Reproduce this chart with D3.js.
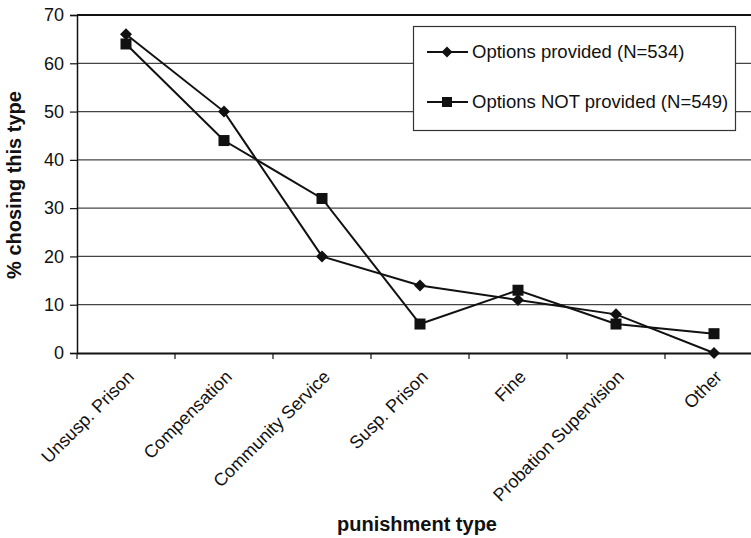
<!DOCTYPE html>
<html><head><meta charset="utf-8">
<script src="https://cdn.jsdelivr.net/npm/d3@7"></script>
<style>body{margin:0;background:#fff}svg{display:block;font-family:"Liberation Sans",Arial,sans-serif}</style>
</head><body><svg id="c" width="751" height="538"></svg>
<script>
const categories = ["Unsusp. Prison","Compensation","Community Service","Susp. Prison","Fine","Probation Supervision","Other"];
const provided = [66,50,20,14,11,8,0];
const notProvided = [64,44,32,6,13,6,4];
const yTicks = [0,10,20,30,40,50,60,70];
const seriesNames = ["Options provided (N=534)","Options NOT provided (N=549)"];

(function(){
const svg = d3.select("#c");
const pL=77, pR=763, pT=15, pB=353;
const x = d3.scaleBand().domain(categories).range([pL,pR]);
const y = d3.scaleLinear().domain([0,70]).range([pB,pT]);

svg.append("g").selectAll("line").data(yTicks.filter(d=>d>0)).join("line")
  .attr("x1",pL).attr("x2",pR).attr("y1",d=>y(d)).attr("y2",d=>y(d))
  .attr("stroke",d=>d===70?"#111":"#444").attr("stroke-width",d=>d===70?2:1.2);

const ya = svg.append("g").attr("transform",`translate(${pL},0)`)
  .call(d3.axisLeft(y).tickValues(yTicks).tickSize(7).tickPadding(6));
ya.select(".domain").attr("stroke","#111").attr("stroke-width",1.5);
ya.selectAll(".tick line").attr("stroke","#111").attr("stroke-width",1.2);
ya.selectAll("text").attr("font-size",18).attr("fill","#111");

const xa = svg.append("g").attr("transform",`translate(0,${pB})`)
  .call(d3.axisBottom(x).tickSize(0).tickFormat(""));
xa.select(".domain").attr("stroke","#111").attr("stroke-width",2);
const bounds = categories.map(c=>x(c)).concat([pR]);
svg.append("g").selectAll("line").data(bounds).join("line")
  .attr("x1",d=>d).attr("x2",d=>d).attr("y1",pB).attr("y2",pB+6)
  .attr("stroke","#111").attr("stroke-width",1.2);
svg.append("g").selectAll("text").data(categories).join("text")
  .attr("transform",d=>`translate(${x(d)+x.bandwidth()/2+9},${pB+25}) rotate(-45)`)
  .attr("text-anchor","end").attr("font-size",18).attr("fill","#111").text(d=>d);

svg.append("text").attr("transform",`translate(21,185) rotate(-90)`)
  .attr("text-anchor","middle").attr("font-size",20).attr("font-weight","bold").attr("fill","#111")
  .text("% chosing this type");
svg.append("text").attr("x",417).attr("y",531)
  .attr("text-anchor","middle").attr("font-size",20).attr("font-weight","bold").attr("fill","#111")
  .text("punishment type");

const cx = d=>x(d)+x.bandwidth()/2;
const line = d3.line().x((d,i)=>cx(categories[i])).y(d=>y(d));
function drawDiamond(g,px,py,s){g.append("path").attr("d",d3.symbol().type(d3.symbolSquare).size(s)()).attr("transform",`translate(${px},${py}) rotate(45)`).attr("fill","#111");}
function drawSquare(g,px,py,s){g.append("rect").attr("x",px-s/2).attr("y",py-s/2).attr("width",s).attr("height",s).attr("fill","#111");}

const gS = svg.append("g");
gS.append("path").datum(notProvided).attr("d",line).attr("fill","none").attr("stroke","#111").attr("stroke-width",2);
gS.append("path").datum(provided).attr("d",line).attr("fill","none").attr("stroke","#111").attr("stroke-width",2);
notProvided.forEach((v,i)=>drawSquare(gS,cx(categories[i]),y(v),11));
provided.forEach((v,i)=>drawDiamond(gS,cx(categories[i]),y(v),72));

const lg = svg.append("g");
lg.append("rect").attr("x",413.5).attr("y",26.5).attr("width",322).attr("height",104)
  .attr("fill","#fff").attr("stroke","#333").attr("stroke-width",1.2);
const ly=[52,102];
seriesNames.forEach((n,i)=>{
  lg.append("line").attr("x1",427).attr("x2",468).attr("y1",ly[i]).attr("y2",ly[i]).attr("stroke","#111").attr("stroke-width",2);
  if(i===0) drawDiamond(lg,447,ly[i],60); else drawSquare(lg,447,ly[i],10);
  lg.append("text").attr("x",472).attr("y",ly[i]+6).attr("font-size",18.5).attr("fill","#111").text(n);
});
})();
</script></body></html>
